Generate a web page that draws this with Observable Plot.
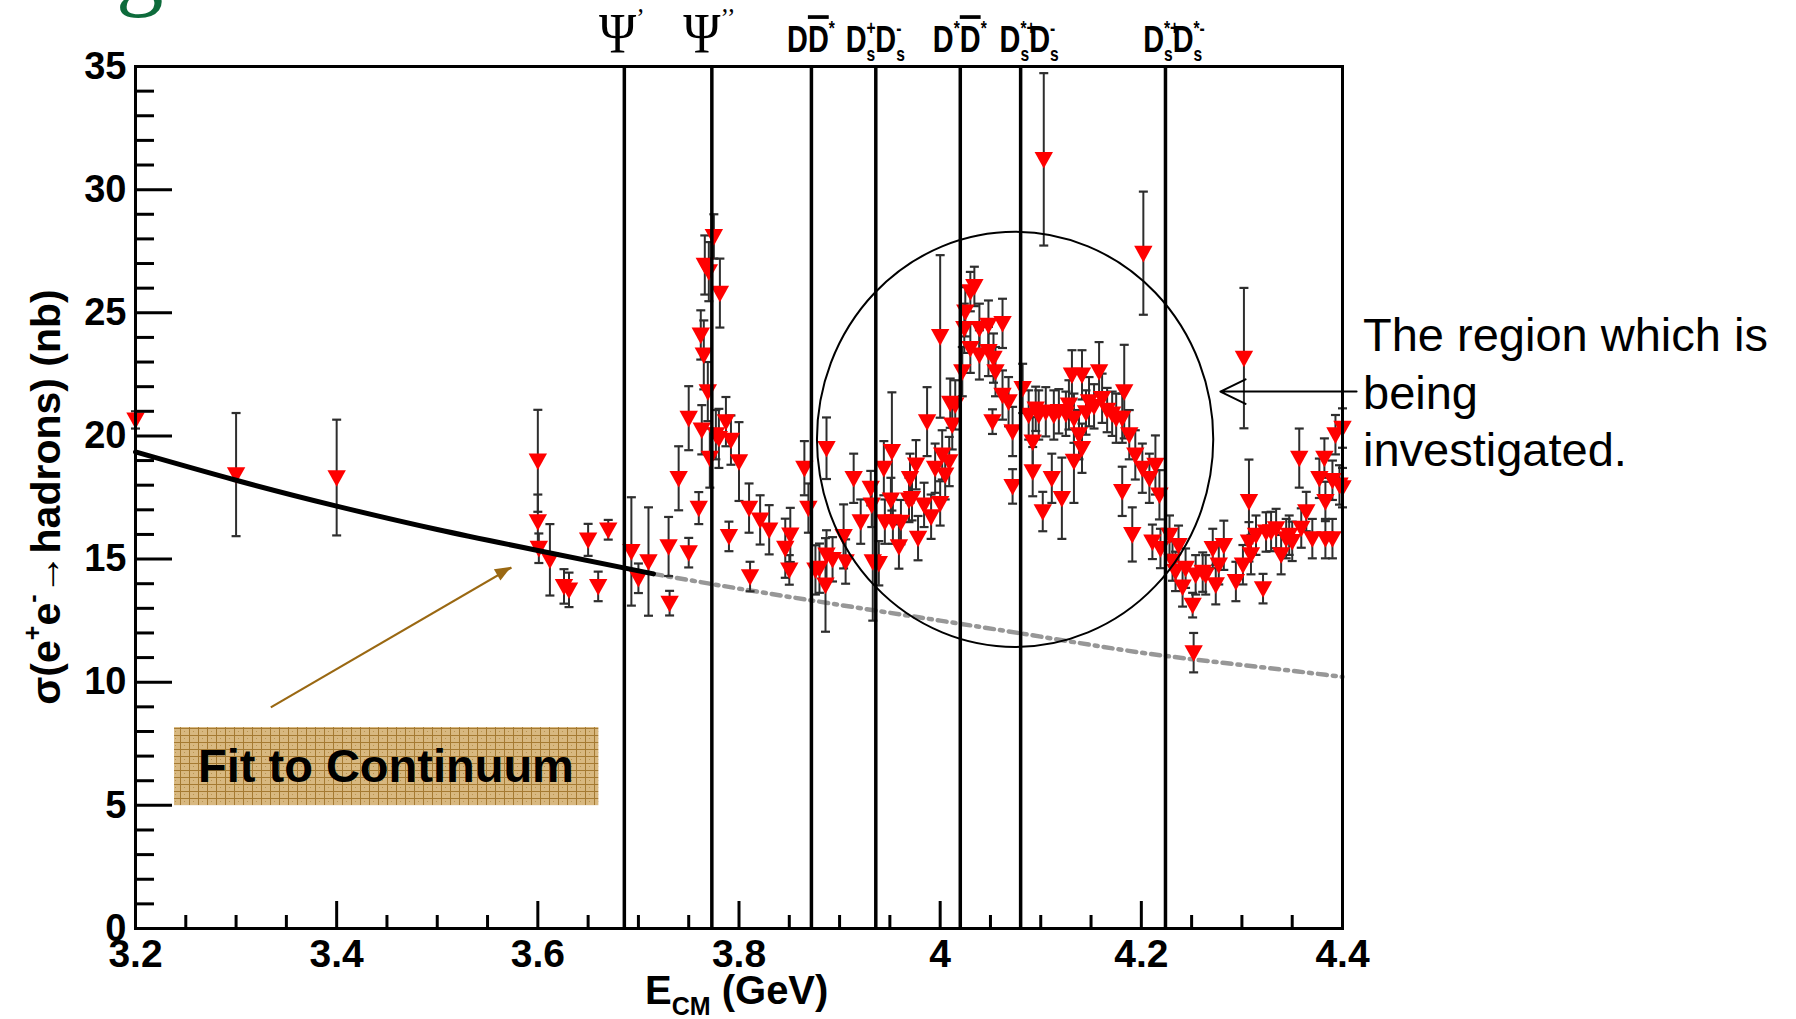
<!DOCTYPE html>
<html><head><meta charset="utf-8">
<script src="https://cdn.jsdelivr.net/npm/d3@7"></script>
<script src="https://cdn.jsdelivr.net/npm/@observablehq/plot@0.6"></script>
<style>
html,body{margin:0;padding:0;background:#fff;overflow:hidden;}
#chart{position:relative;width:1796px;height:1019px;overflow:hidden;}
#chart svg{max-width:none !important;}
</style></head><body><div id="chart"></div>
<script>
// ---------------- data ----------------
const energy = [3.200,3.300,3.400,3.600,3.600,3.601,3.612,3.626,3.631,3.650,3.660,3.670,3.693,3.700,3.710,3.730,3.731,3.740,3.750,3.750,
3.760,3.762,3.763,3.765,3.766,3.769,3.770,3.771,3.775,3.777,3.780,3.781,3.787,3.790,3.792,3.800,3.810,3.811,3.821,3.830,
3.846,3.850,3.851,3.865,3.869,3.876,3.880,3.886,3.887,3.887,3.893,3.904,3.906,3.914,3.921,3.931,3.932,3.933,3.939,3.944,
3.945,3.951,3.952,3.953,3.959,3.961,3.969,3.970,3.972,3.976,3.978,3.984,3.987,3.991,3.995,4.000,4.000,4.002,4.005,4.009,
4.010,4.012,4.015,4.022,4.024,4.025,4.030,4.030,4.034,4.039,4.039,4.048,4.048,4.052,4.053,4.055,4.062,4.062,4.068,4.072,
4.072,4.082,4.088,4.092,4.092,4.098,4.102,4.103,4.105,4.111,4.113,4.121,4.128,4.131,4.133,4.133,4.138,4.141,4.141,4.148,
4.158,4.161,4.175,4.181,4.181,4.183,4.188,4.191,4.194,4.201,4.202,4.208,4.211,4.214,4.218,4.219,4.228,4.231,4.234,4.237,
4.241,4.244,4.251,4.252,4.254,4.261,4.264,4.271,4.274,4.277,4.282,4.294,4.301,4.302,4.307,4.307,4.309,4.314,4.321,4.324,
4.329,4.334,4.339,4.344,4.347,4.350,4.357,4.359,4.364,4.370,4.377,4.382,4.383,4.383,4.390,4.390,4.393,4.397,4.400,4.400,
4.095,4.118,4.125,4.145,4.153,4.166,4.171];
const sigma = [20.65,18.43,18.31,18.99,16.52,15.44,14.97,13.89,13.75,15.78,13.89,16.19,15.31,14.22,14.90,15.51,13.21,18.28,15.26,20.72,
17.07,24.10,20.25,23.29,26.94,21.80,26.67,19.10,28.10,20.05,19.90,25.80,20.58,15.92,19.83,18.96,17.07,14.29,16.59,16.19,
15.44,14.56,15.98,18.69,17.07,14.56,14.63,13.95,15.17,19.50,14.99,15.92,14.90,18.28,16.52,17.88,17.20,14.90,14.83,18.69,
16.52,17.40,19.37,16.52,15.51,16.50,17.40,18.28,17.47,18.83,15.85,17.20,20.58,16.72,18.69,17.26,24.04,19.23,18.42,18.96,
21.33,20.45,21.26,22.61,24.37,25.04,25.86,23.56,26.07,24.37,23.29,24.50,23.43,20.58,23.16,22.61,24.57,21.66,21.39,20.18,
17.95,21.93,20.85,19.76,18.55,20.85,16.93,31.23,20.98,18.28,20.85,17.47,21.26,22.48,20.72,18.98,20.05,22.48,19.50,21.39,
22.61,21.53,20.72,20.72,17.75,21.80,20.05,16.00,19.23,18.69,27.42,18.28,15.70,18.82,17.61,15.43,15.97,14.92,14.50,15.56,
13.87,14.63,13.13,11.20,14.36,14.47,14.36,15.43,13.96,14.77,15.56,14.09,14.77,23.16,17.34,15.70,15.18,15.97,13.80,16.10,
16.12,16.24,15.18,15.83,15.97,15.72,19.10,16.26,16.93,15.83,18.28,19.10,15.83,17.34,15.83,18.20,20.05,18.01,20.32,17.90,
21.10,21.00,20.90,20.95,21.20,21.05,20.90];
const sigmaErr = [0.35,2.5,2.35,2.07,1.1,0.6,1.45,0.7,0.7,0.65,0.6,0.4,2.2,0.6,2.2,1.2,0.5,1.3,0.6,1.3,
0.65,1.0,1.0,1.4,1.2,1.2,1.2,1.2,0.9,1.0,1.2,1.4,1.0,0.6,1.0,1.6,1.0,0.6,1.0,1.0,
1.2,0.6,1.1,1.1,1.0,1.0,1.0,1.9,1.0,1.25,0.9,1.3,0.9,1.0,0.9,0.7,0.9,2.4,0.9,1.1,
0.9,0.9,2.4,0.9,0.9,0.9,0.9,1.0,0.9,1.0,0.9,0.9,1.4,0.9,1.0,0.9,3.3,1.0,1.0,1.0,
1.0,1.0,1.0,1.0,1.0,1.0,0.8,1.0,0.8,1.0,1.0,1.0,1.0,0.5,1.0,1.0,1.0,1.0,1.0,1.0,
0.7,1.0,1.0,1.0,1.0,1.0,0.8,3.5,1.0,1.0,1.0,1.65,1.0,1.0,1.0,1.7,1.0,1.0,1.0,1.0,
1.2,1.0,1.0,1.0,1.0,1.9,1.0,1.1,1.0,1.0,2.5,1.0,0.7,1.2,1.0,0.8,0.8,0.8,0.8,0.8,
0.8,0.8,0.5,0.8,0.8,0.8,0.8,0.8,0.8,0.8,1.0,0.8,0.8,2.85,1.7,0.8,0.8,0.8,0.6,0.8,
0.8,0.8,0.8,0.8,0.8,0.8,1.2,0.8,0.8,0.8,0.8,0.8,0.8,0.8,0.8,0.8,0.8,0.8,0.8,0.8,
0.9,0.9,0.9,0.9,0.9,0.9,0.9];

// continuum fit (solid part, fitted region) and its extrapolation (dashed)
const fitEnergy = [3.200, 3.300, 3.400, 3.500, 3.600, 3.715];
const fitSigma  = [19.35, 18.20, 17.15, 16.20, 15.35, 14.40];
const extEnergy = [3.715, 3.800, 3.900, 4.000, 4.100, 4.200, 4.300, 4.400];
const extSigma  = [14.40, 13.80, 13.14, 12.50, 11.85, 11.20, 10.70, 10.22];

// open-charm / charmonium thresholds (GeV)
const thresholds = [3.686, 3.773, 3.872, 3.936, 4.020, 4.080, 4.224];

// axis ticks
const xMajor = [3.2, 3.4, 3.6, 3.8, 4.0, 4.2, 4.4];
const xMinor = [3.25,3.3,3.35,3.45,3.5,3.55,3.65,3.7,3.75,3.85,3.9,3.95,4.05,4.1,4.15,4.25,4.3,4.35];
const yMajor = [0, 5, 10, 15, 20, 25, 30, 35];
const yMinor = [1,2,3,4,6,7,8,9,11,12,13,14,16,17,18,19,21,22,23,24,26,27,28,29,31,32,33,34];

// annotations (data units)
const fitBox = {x1: 3.2388, x2: 3.6607, y1: 4.99, y2: 8.16};
const fitLabel = {x: 3.449, y: 6.55, text: "Fit to Continuum"};
const brownArrow = {x1: 3.3345, y1: 8.98, x2: 3.5738, y2: 14.66};
const regionArrow = {x1: 4.414, y1: 21.8, x2: 4.2786, y2: 21.8};
const region = {cx: 4.075, cy: 19.84, rx: 0.197, ry: 8.43};
const regionText = ["The region which is", "being", "investigated."];

// ---------------- chart ----------------
const points = energy.map((e, i) => ({e, s: sigma[i], err: sigmaErr[i]}));
const fitData = fitEnergy.map((e, i) => ({e, s: fitSigma[i]}));
const extData = extEnergy.map((e, i) => ({e, s: extSigma[i]}));

const W = 1796, H = 1019;
const M = {top: 66, right: 454, bottom: 91, left: 135};
const frameW = W - M.left - M.right, frameH = H - M.top - M.bottom;
const SANS = "'Liberation Sans', Arial, Helvetica, sans-serif";
const SERIF = "'Liberation Serif', 'Times New Roman', serif";

const triDown = {draw(ctx, size) { const r = Math.sqrt(size / Math.PI); ctx.moveTo(-r, -0.8 * r); ctx.lineTo(r, -0.8 * r); ctx.lineTo(0, r); ctx.closePath(); }};
const capSym = {draw(ctx, size) { const r = Math.sqrt(size / Math.PI); ctx.moveTo(-r, 0); ctx.lineTo(r, 0); }};

const chart = Plot.plot({
  width: W, height: H,
  marginTop: M.top, marginRight: M.right, marginBottom: M.bottom, marginLeft: M.left,
  x: {domain: [3.2, 4.4]},
  y: {domain: [0, 35]},
  style: {fontFamily: SANS, fontWeight: "bold", background: "white", color: "black"},
  marks: [
    Plot.rect([fitBox], {x1: "x1", x2: "x2", y1: "y1", y2: "y2", fill: "url(#weave)"}),
    Plot.text([fitLabel], {x: "x", y: "y", text: "text", fontSize: 47, fontWeight: "bold", fill: "black"}),
    Plot.line(extData, {x: "e", y: "s", stroke: "#979797", strokeWidth: 4.5, strokeDasharray: "9,6,3,6", curve: "natural"}),
    Plot.ruleX(points, {x: "e", y1: d => d.s - d.err, y2: d => d.s + d.err, stroke: "#2e2e2e", strokeWidth: 2}),
    Plot.dot(points, {x: "e", y: d => d.s + d.err, symbol: capSym, r: 4.5, stroke: "#2e2e2e", strokeWidth: 2.2, fill: "none"}),
    Plot.dot(points, {x: "e", y: d => d.s - d.err, symbol: capSym, r: 4.5, stroke: "#2e2e2e", strokeWidth: 2.2, fill: "none"}),
    Plot.dot(points, {x: "e", y: "s", symbol: triDown, r: 9.2, fill: "#ff0000", stroke: "none"}),
    Plot.ruleX(thresholds, {x: d => d, stroke: "black", strokeWidth: 3.5}),
    Plot.line(fitData, {x: "e", y: "s", stroke: "black", strokeWidth: 5, curve: "natural"}),
    Plot.link([brownArrow], {x1: "x1", y1: "y1", x2: "x2", y2: "y2", stroke: "#9a6812", strokeWidth: 2.2}),
    Plot.arrow([regionArrow], {x1: "x1", y1: "y1", x2: "x2", y2: "y2", stroke: "black", strokeWidth: 2, headLength: 21, headAngle: 52}),
    Plot.ruleX(xMajor, {x: d => d, insetTop: frameH - 27, strokeWidth: 3}),
    Plot.ruleX(xMinor, {x: d => d, insetTop: frameH - 13, strokeWidth: 3}),
    Plot.ruleY(yMajor, {y: d => d, insetRight: frameW - 37, strokeWidth: 3}),
    Plot.ruleY(yMinor, {y: d => d, insetRight: frameW - 19, strokeWidth: 3}),
    Plot.frame({stroke: "black", strokeWidth: 3}),
    Plot.axisX({ticks: xMajor, tickSize: 0, tickPadding: 11, fontSize: 39, label: null, tickFormat: d3.format("~g")}),
    Plot.axisY({ticks: yMajor, tickSize: 0, tickPadding: 9, fontSize: 38, label: null, tickFormat: d3.format("d")})
  ]
});
document.getElementById("chart").appendChild(chart);

// ---------------- decorations using the plot's scales ----------------
const sx = chart.scale("x"), sy = chart.scale("y");
const X = v => sx.apply(v), Y = v => sy.apply(v);
const svg = d3.select(chart);

const defs = svg.insert("defs", ":first-child");
const pat = defs.append("pattern").attr("id", "weave").attr("patternUnits", "userSpaceOnUse").attr("width", 9).attr("height", 7);
pat.append("rect").attr("width", 9).attr("height", 7).attr("fill", "#d8b880");
pat.append("path").attr("d", "M0,0.5H9M0.5,0V7").attr("stroke", "#a57a32").attr("stroke-width", 1);
pat.append("rect").attr("x", 4).attr("y", 3).attr("width", 1).attr("height", 1).attr("fill", "#b99450");

// region ellipse
svg.append("ellipse")
  .attr("cx", X(region.cx)).attr("cy", Y(region.cy))
  .attr("rx", X(region.cx + region.rx) - X(region.cx))
  .attr("ry", Y(region.cy - region.ry) - Y(region.cy))
  .attr("fill", "none").attr("stroke", "black").attr("stroke-width", 2);

// brown arrow head
{
  const x1 = X(brownArrow.x1), y1 = Y(brownArrow.y1), x2 = X(brownArrow.x2), y2 = Y(brownArrow.y2);
  const len = Math.hypot(x2 - x1, y2 - y1), ux = (x2 - x1) / len, uy = (y2 - y1) / len;
  const L = 16, w = 6.5;
  const bx = x2 - ux * L, by = y2 - uy * L;
  svg.append("path").attr("d", `M${x2},${y2}L${bx - uy * w},${by + ux * w}L${bx + uy * w},${by - ux * w}Z`).attr("fill", "#9a6812");
}

// rich text helper: tokens {n}, {n, over}, {sup}, {sub}, {sup, sub}
function rich(t, tokens, base, ratio = 0.62) {
  let shift = 0;
  const small = Math.round(base * ratio);
  for (const tk of tokens) {
    if (tk.n !== undefined) {
      const ts = t.append("tspan").attr("font-size", base).text(tk.n);
      if (shift) ts.attr("dy", -shift);
      if (tk.over) ts.style("text-decoration", "overline");
      shift = 0;
    } else if (tk.sup !== undefined) {
      const up = -base * 0.46;
      const s1 = t.append("tspan").attr("dy", up - shift).attr("font-size", small).text(tk.sup);
      shift = up;
      if (tk.sub !== undefined) {
        const wSup = s1.node().getComputedTextLength();
        const down = base * 0.24;
        t.append("tspan").attr("dx", -wSup).attr("dy", down - shift).attr("font-size", small).text(tk.sub);
        shift = down;
      }
    } else if (tk.sub !== undefined) {
      const down = base * 0.28;
      t.append("tspan").attr("dy", down - shift).attr("font-size", small).text(tk.sub);
      shift = down;
    }
  }
}

const labelTokens = [
  [{n: "Ψ"}, {sup: "’"}],
  [{n: "Ψ"}, {sup: "’’"}],
  [{n: "D"}, {n: "D", over: true}, {sup: "*"}],
  [{n: "D"}, {sup: "+", sub: "s"}, {n: "D"}, {sup: "-", sub: "s"}],
  [{n: "D"}, {sup: "*"}, {n: "D", over: true}, {sup: "*"}],
  [{n: "D"}, {sup: "*+", sub: "s"}, {n: "D"}, {sup: "-", sub: "s"}],
  [{n: "D"}, {sup: "*+", sub: "s"}, {n: "D"}, {sup: "*-", sub: "s"}]
];
const labG = svg.append("g");
thresholds.forEach((th, i) => {
  const psi = i < 2;
  const t = labG.append("text")
    .attr("transform", `translate(${X(th) + (i >= 5 ? 9 : psi ? -2 : 0)},${psi ? 53 : 52}) scale(${psi ? 0.9 : 0.78},1)`)
    .attr("text-anchor", "middle")
    .attr("font-family", psi ? SERIF : SANS)
    .attr("font-weight", psi ? "normal" : "bold")
    .attr("fill", "black");
  rich(t, labelTokens[i], psi ? 56 : 37, psi ? 0.5 : 0.55);
});

// y axis title
{
  const t = svg.append("text").attr("transform", `translate(60,${(M.top + H - M.bottom) / 2}) rotate(-90)`)
    .attr("text-anchor", "middle").attr("font-weight", "bold").attr("fill", "black")
    .attr("font-family", SANS);
  rich(t, [{n: "σ(e"}, {sup: "+"}, {n: "e"}, {sup: "-"}, {n: "→hadrons) (nb)"}], 41);
}
// x axis title
{
  const t = svg.append("text").attr("x", 645).attr("y", 1004).attr("text-anchor", "start")
    .attr("font-weight", "bold").attr("fill", "black")
    .attr("font-family", SANS);
  rich(t, [{n: "E"}, {sub: "CM"}, {n: " (GeV)"}], 40);
}
// right-hand annotation text
regionText.forEach((line, i) => {
  svg.append("text").attr("x", X(4.4) + 21).attr("y", 351 + i * 57.5).attr("text-anchor", "start")
    .attr("font-family", SANS)
    .attr("font-weight", "normal").attr("font-size", 47).attr("fill", "black").text(line);
});
// clipped green letter from the slide title above
svg.append("text").attr("x", 116).attr("y", -2).attr("text-anchor", "start").attr("font-family", SERIF)
  .attr("font-size", 95).attr("font-weight", "normal").attr("fill", "#0d6b3b").text("g");
</script>
</body></html>
